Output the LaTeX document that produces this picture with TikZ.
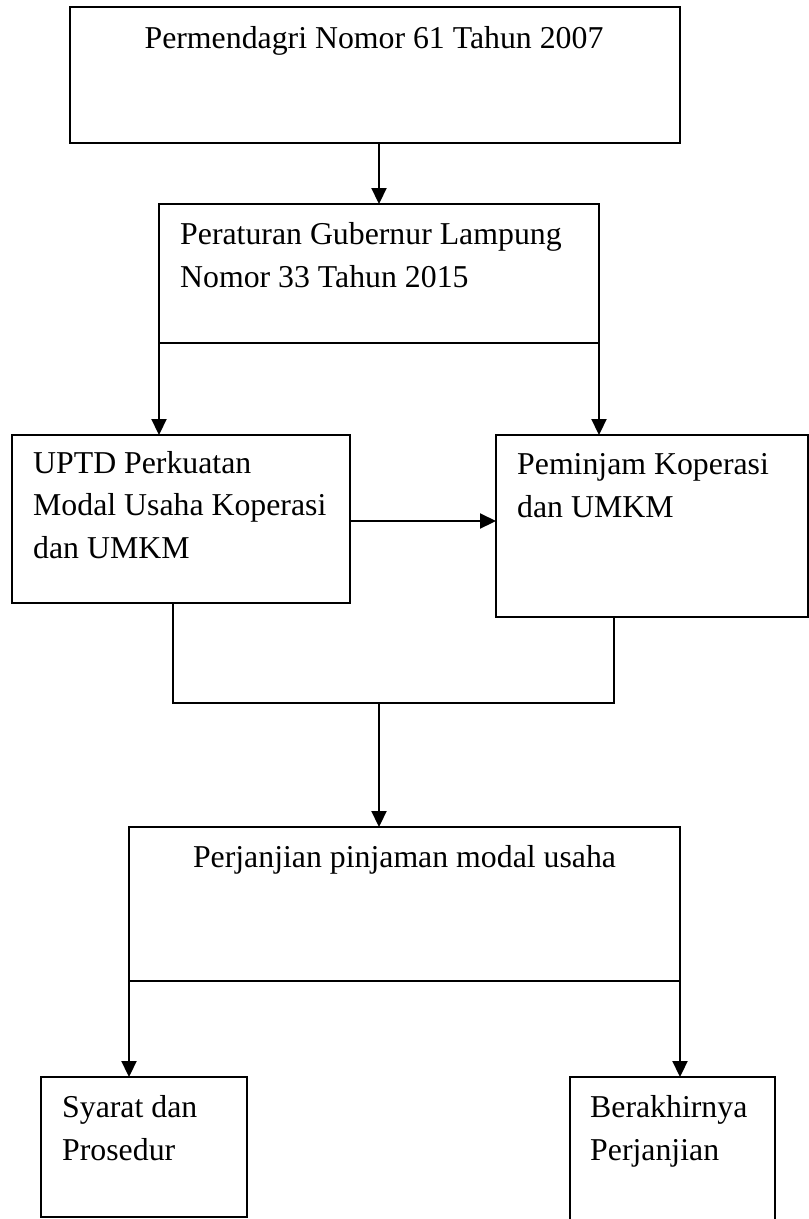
\documentclass[tikz,border=0pt]{standalone}
\usepackage{fontspec}
\setmainfont{Liberation Serif}
\usetikzlibrary{arrows.meta}
\tikzset{
  box/.style={draw=black, line width=1.3pt, rectangle, inner sep=0pt, outer sep=0pt, anchor=north west},
  thin line/.style={draw=black, line width=1.3pt},
  arr/.style={draw=black, line width=2.2pt, -{Triangle[length=16pt,width=15pt]}},
  lbl/.style={anchor=base west, inner sep=0pt, align=left, font=\fontsize{31.8}{42.5}\selectfont},
  clbl/.style={anchor=base, inner sep=0pt, font=\fontsize{31.8}{42.5}\selectfont}
}
\begin{document}
\begin{tikzpicture}[x=1pt,y=-1pt]
\path[use as bounding box, clip] (0,0) rectangle (809,1219);
\fill[white] (0,0) rectangle (809,1219);
% boxes
\node[box, minimum width=610pt, minimum height=136pt] (b1) at (70,7) {};
\node[box, minimum width=440pt, minimum height=139pt] (b2) at (159,204) {};
\node[box, minimum width=338pt, minimum height=168pt] (b3) at (12,435) {};
\node[box, minimum width=312pt, minimum height=182pt] (b4) at (496,435) {};
\node[box, minimum width=551pt, minimum height=154pt] (b5) at (129,827) {};
\node[box, minimum width=206pt, minimum height=140pt] (b6) at (41,1077) {};
\node[box, minimum width=205pt, minimum height=160pt] (b7) at (570,1077) {};
% texts (multi-line nodes: base = last line)
\node[clbl] (t1) at (374,48) {Permendagri Nomor 61 Tahun 2007};
\node[lbl] (t2) at (180,287) {Peraturan Gubernur Lampung\\Nomor 33 Tahun 2015};
\node[lbl] (t3) at (33,558) {UPTD Perkuatan\\Modal Usaha Koperasi\\dan UMKM};
\node[lbl] (t4) at (517,517) {Peminjam Koperasi\\dan UMKM};
\node[clbl] (t5) at (404.5,867) {Perjanjian pinjaman modal usaha};
\node[lbl] (t6) at (62,1160) {Syarat dan\\Prosedur};
\node[lbl] (t7) at (590,1160) {Berakhirnya\\Perjanjian};
% connectors
\draw[arr] (b1.south -| b2.north) -- (b2.north);
\draw[arr] (b2.south west) -- (b2.south west |- b3.north);
\draw[arr] (b2.south east) -- (b2.south east |- b4.north);
\draw[arr] ([yshift=-2pt]b3.east) -- ([yshift=-2pt]b3.east -| b4.west);
\coordinate (m1) at (173,703);
\coordinate (m2) at (614,703);
\coordinate (m3) at (379,703);
\draw[thin line] (m1 |- b3.south) -- (m1) -- (m2) -- (m2 |- b4.south);
\draw[arr] (m3) -- (m3 |- b5.north);
\draw[arr] ([yshift=19pt]b5.south west) -- (b5.south west |- b6.north);
\draw[arr] ([yshift=19pt]b5.south east) -- (b5.south east |- b7.north);
\end{tikzpicture}
\end{document}
